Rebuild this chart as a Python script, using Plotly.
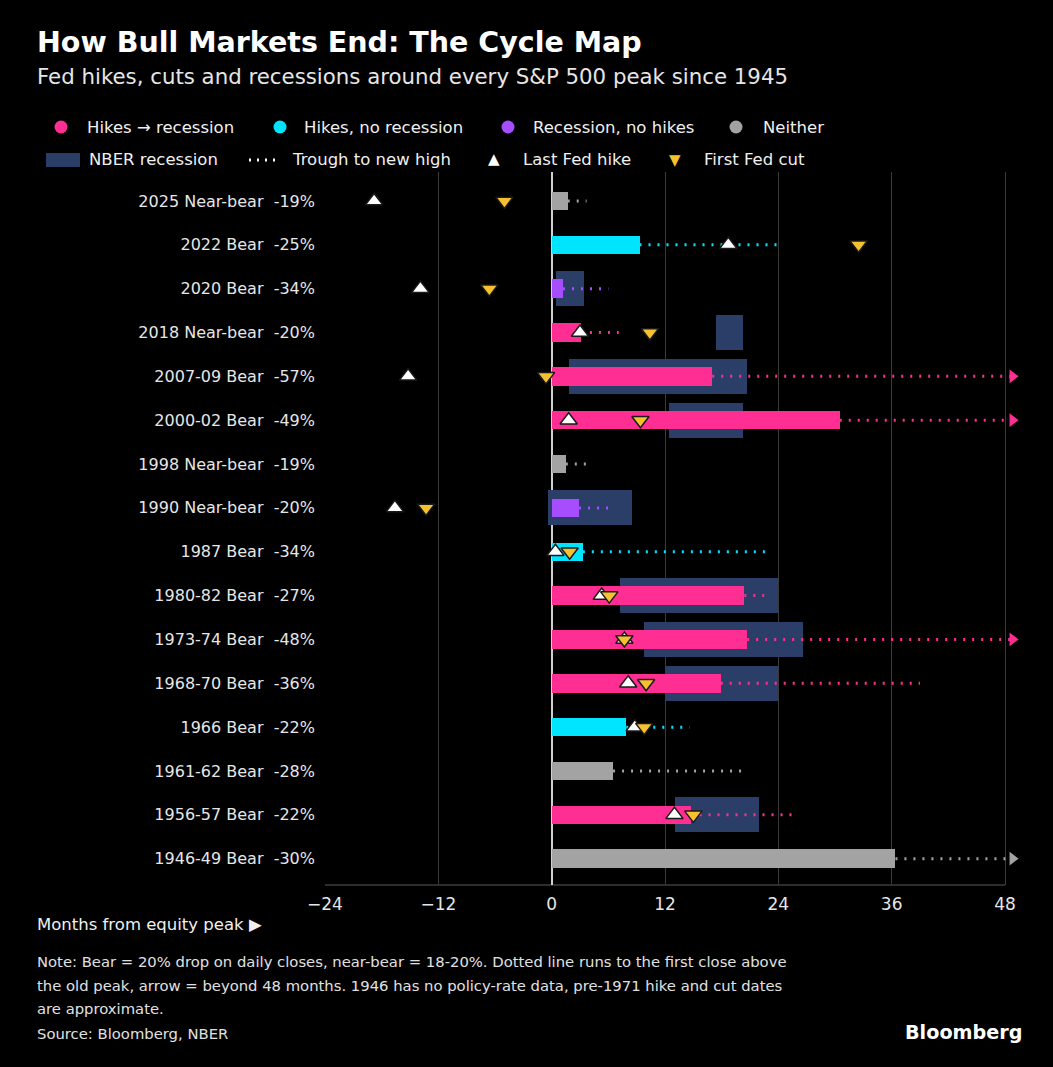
import plotly.graph_objects as go

# --- data (months from the S&P 500 peak) ---
events = ["2025 Near-bear", "2022 Bear", "2020 Bear", "2018 Near-bear", "2007-09 Bear",
          "2000-02 Bear", "1998 Near-bear", "1990 Near-bear", "1987 Bear", "1980-82 Bear",
          "1973-74 Bear", "1968-70 Bear", "1966 Bear", "1961-62 Bear", "1956-57 Bear",
          "1946-49 Bear"]
drops = ["-19%", "-25%", "-34%", "-20%", "-57%", "-49%", "-19%", "-20%", "-34%", "-27%",
         "-48%", "-36%", "-22%", "-28%", "-22%", "-30%"]
kinds = ["neither", "hike", "rec", "hikerec", "hikerec", "hikerec", "neither", "rec", "hike",
         "hikerec", "hikerec", "hikerec", "hike", "neither", "hikerec", "neither"]
trough = [1.7, 9.3, 1.2, 3.1, 17.0, 30.5, 1.5, 2.9, 3.3, 20.4, 20.7, 17.9, 7.9, 6.5, 14.7, 36.4]
new_high = [3.7, 24.1, 6.0, 7.1, 65, 86, 4.3, 6.7, 22.6, 22.5, 90, 39.0, 14.6, 20.3, 25.6, 49.5]
last_hike = [-18.8, 18.7, -13.9, 3.0, -15.2, 1.8, None, -16.6, 0.4, 5.3, 7.7, 8.1, 8.8, None, 13.0, None]
first_cut = [-5.0, 32.5, -6.6, 10.4, -0.6, 9.4, None, -13.3, 1.9, 6.1, 7.7, 10.0, 9.8, None, 15.0, None]

rec_rows = [2, 3, 4, 5, 7, 9, 10, 11, 14]
rec_start = [0.5, 17.4, 1.8, 12.4, -0.4, 7.2, 9.8, 12.0, 13.1]
rec_end = [3.4, 20.3, 20.7, 20.3, 8.5, 24.0, 26.6, 24.0, 22.0]

ticks_x = [-24, -12, 0, 12, 24, 36, 48]

colors = {"hikerec": "#FF2E93", "hike": "#00E5FF", "rec": "#A64DFF", "neither": "#A3A3A3"}
NAVY = "#2B3E68"
GOLD = "#F6C12F"
XMAX = 48          # last labelled month
CAP = 48.8         # arrow position for recoveries beyond 48 months
X_END = 49.8       # right end of the plotting range (room for the arrows)
FONT = "DejaVu Sans"

rows = list(range(len(events)))
labels = [f"{e}\u00a0\u00a0{d}" for e, d in zip(events, drops)]

fig = go.Figure()

# NBER recessions (behind everything)
fig.add_trace(go.Bar(
    y=rec_rows, x=[e - s for s, e in zip(rec_start, rec_end)], base=rec_start,
    orientation="h", width=0.8, marker=dict(color=NAVY, line=dict(width=0)),
    hoverinfo="skip", showlegend=False))

# trough -> new high dotted lines
for i in rows:
    c = colors[kinds[i]]
    end = min(new_high[i], CAP)
    fig.add_trace(go.Scatter(
        x=[trough[i], end], y=[i, i], mode="lines",
        line=dict(color=c, width=3, dash="2px,7px"),
        hoverinfo="skip", showlegend=False))

# peak -> trough bars
fig.add_trace(go.Bar(
    y=rows, x=trough, base=[0] * len(rows), orientation="h", width=0.42,
    marker=dict(color=[colors[k] for k in kinds], line=dict(width=0)),
    hoverinfo="skip", showlegend=False))

# arrows for recoveries beyond 48 months
arr = [i for i in rows if new_high[i] > XMAX]
fig.add_trace(go.Scatter(
    x=[CAP] * len(arr), y=arr, mode="markers",
    marker=dict(symbol="triangle-right", size=12, color=[colors[kinds[i]] for i in arr]),
    hoverinfo="skip", showlegend=False))

# Fed markers
hk = [i for i in rows if last_hike[i] is not None]
fig.add_trace(go.Scatter(
    x=[last_hike[i] for i in hk], y=hk, mode="markers",
    marker=dict(symbol="triangle-up", size=15, color="white", line=dict(color="#1a1a1a", width=1.5)),
    hoverinfo="skip", showlegend=False))
ct = [i for i in rows if first_cut[i] is not None]
fig.add_trace(go.Scatter(
    x=[first_cut[i] for i in ct], y=ct, mode="markers",
    marker=dict(symbol="triangle-down", size=15, color=GOLD, line=dict(color="#1a1a1a", width=1.5)),
    hoverinfo="skip", showlegend=False))

# --- pixel helpers for the hand-made legend / notes ---
L, T, B = 325, 172, 885
R = L + (X_END + 24) * (680 / 72)


def px(x):
    return (x - L) / (R - L)


def py(y):
    return (B - y) / (B - T)


shapes = []
ann = []
LEG = 16.5

leg1 = [(61, 85, "Hikes \u2192 recession", colors["hikerec"]),
        (280, 302, "Hikes, no recession", colors["hike"]),
        (508, 531, "Recession, no hikes", colors["rec"]),
        (736, 761, "Neither", colors["neither"])]
for x, tx, txt, c in leg1:
    shapes.append(dict(type="circle", xref="paper", yref="paper", xsizemode="pixel",
                       ysizemode="pixel", xanchor=px(x), yanchor=py(127),
                       x0=-6.5, x1=6.5, y0=-6.5, y1=6.5, fillcolor=c, line=dict(width=0)))
    ann.append(dict(x=px(tx), y=py(127), text=txt, xanchor="left", yanchor="middle"))

shapes.append(dict(type="rect", xref="paper", yref="paper", x0=px(46), x1=px(80),
                   y0=py(167), y1=py(153), fillcolor=NAVY, line=dict(width=0)))
ann.append(dict(x=px(87), y=py(160), text="NBER recession", xanchor="left", yanchor="middle"))
shapes.append(dict(type="line", xref="paper", yref="paper", x0=px(249), x1=px(278),
                   y0=py(160), y1=py(160), line=dict(color="white", width=3, dash="2px,6px")))
ann.append(dict(x=px(290), y=py(160), text="Trough to new high", xanchor="left", yanchor="middle"))
ann.append(dict(x=px(494), y=py(159), text="\u25b2", xanchor="center", yanchor="middle",
                font=dict(color="white", size=15, family=FONT)))
ann.append(dict(x=px(521), y=py(160), text="Last Fed hike", xanchor="left", yanchor="middle"))
ann.append(dict(x=px(675), y=py(160), text="\u25bc", xanchor="center", yanchor="middle",
                font=dict(color=GOLD, size=15, family=FONT)))
ann.append(dict(x=px(702), y=py(160), text="First Fed cut", xanchor="left", yanchor="middle"))

# titles and footnotes
ann.append(dict(x=px(35), y=py(43), text="<b>How Bull Markets End: The Cycle Map</b>",
                xanchor="left", yanchor="middle", font=dict(size=28.5, color="white", family=FONT)))
ann.append(dict(x=px(35), y=py(76),
                text="Fed hikes, cuts and recessions around every S&P 500 peak since 1945",
                xanchor="left", yanchor="middle", font=dict(size=21.3, color="#e6e6e6", family=FONT)))
ann.append(dict(x=px(35), y=py(924), text="Months from equity peak \u25b6",
                xanchor="left", yanchor="middle", font=dict(size=16.5, color="#f0f0f0", family=FONT)))
notes = ["Note: Bear = 20% drop on daily closes, near-bear = 18-20%. Dotted line runs to the first close above",
         "the old peak, arrow = beyond 48 months. 1946 has no policy-rate data, pre-1971 hike and cut dates",
         "are approximate."]
for k, line in enumerate(notes):
    ann.append(dict(x=px(35), y=py(962 + 23 * k), text=line, xanchor="left", yanchor="middle",
                    font=dict(size=14.8, color="#e0e0e0", family=FONT)))
ann.append(dict(x=px(35), y=py(1033), text="Source: Bloomberg, NBER", xanchor="left",
                yanchor="middle", font=dict(size=14.8, color="#e0e0e0", family=FONT)))
ann.append(dict(x=px(1025), y=py(1032), text="<b>Bloomberg</b>", xanchor="right",
                yanchor="middle", font=dict(size=19.2, color="white", family=FONT)))

for a in ann:
    a.setdefault("xref", "paper")
    a.setdefault("yref", "paper")
    a.setdefault("showarrow", False)
    a.setdefault("font", dict(size=LEG, color="#f0f0f0", family=FONT))

# bottom axis line only as far as the last labelled month
shapes.append(dict(type="line", xref="x", yref="paper", x0=-24, x1=XMAX, y0=0, y1=0,
                   line=dict(color="#5a5a5a", width=1), layer="below"))

fig.update_layout(
    width=1053, height=1067,
    paper_bgcolor="black", plot_bgcolor="black",
    margin=dict(l=L, r=1053 - R, t=T, b=1067 - B),
    barmode="overlay", bargap=0,
    font=dict(family=FONT, color="#e8e8e8"),
    shapes=shapes, annotations=ann,
    xaxis=dict(range=[-24, X_END], tickvals=ticks_x, showgrid=True, gridcolor="#3a3a3a",
               gridwidth=1, zeroline=True, zerolinecolor="#cfcfcf", zerolinewidth=1.5,
               showline=False, ticks="", ticklabelstandoff=7,
               tickfont=dict(size=17, color="#e6e6e6"), fixedrange=True),
    yaxis=dict(range=[15.6, -0.66], tickvals=rows, ticktext=labels, showgrid=False,
               zeroline=False, ticks="", ticklabelstandoff=9,
               tickfont=dict(size=16, color="#e6e6e6"), fixedrange=True),
)

fig.write_html("out.html", config={"displayModeBar": False},
               post_script="document.body.style.margin='0';document.body.style.background='black';")
